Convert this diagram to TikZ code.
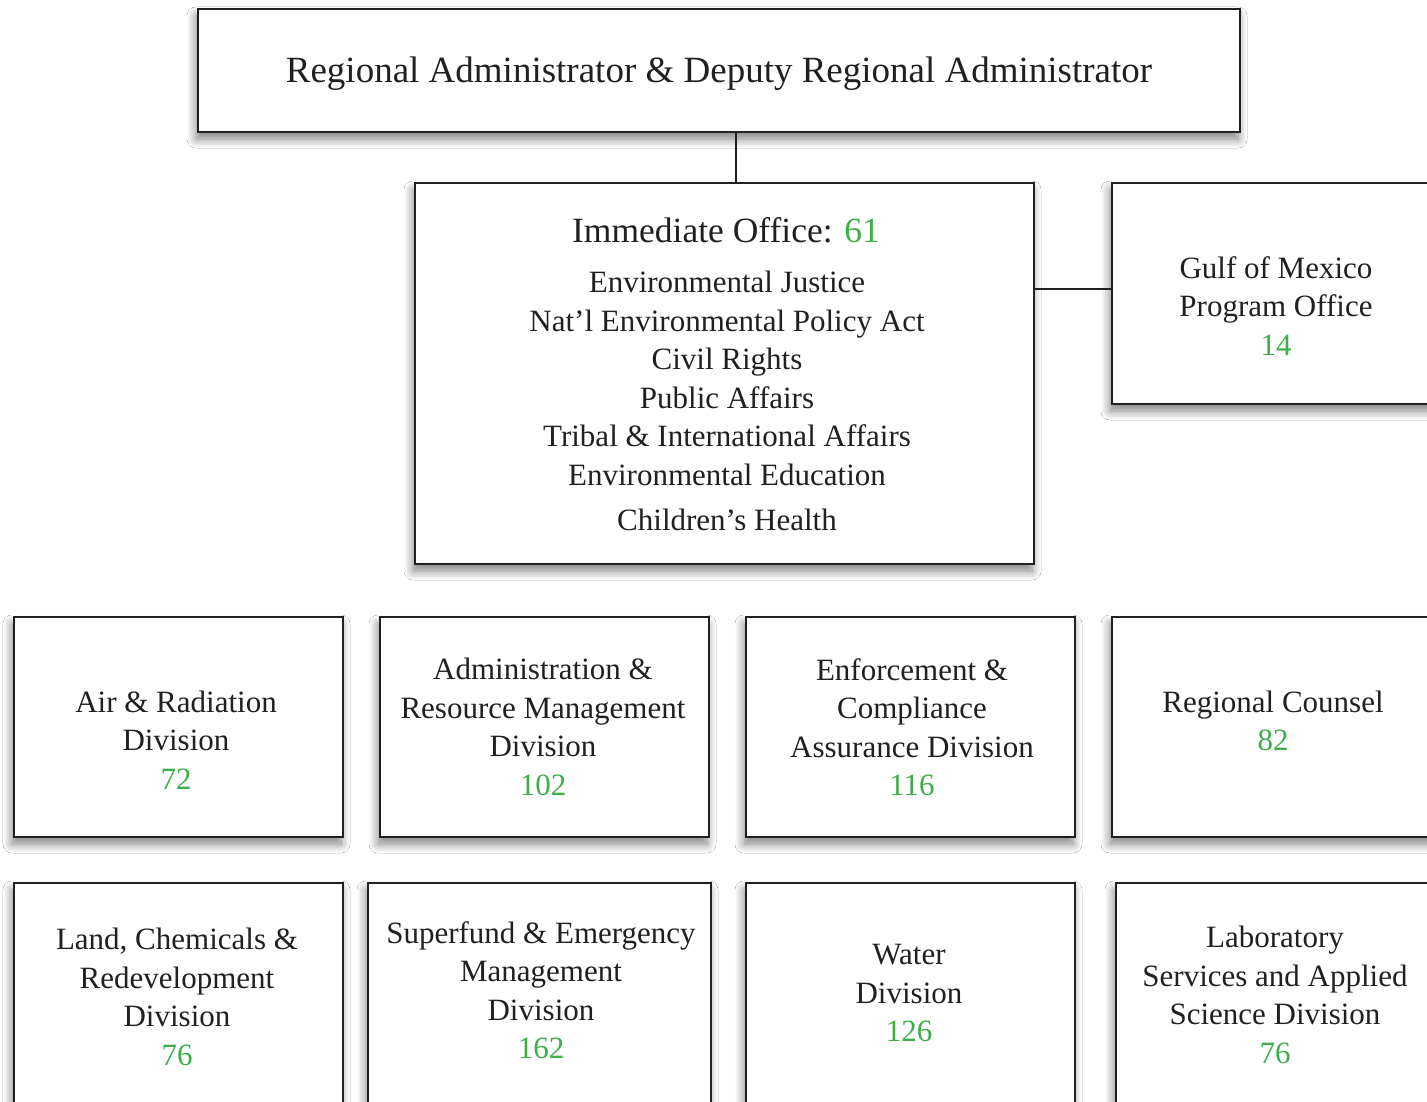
\documentclass[tikz,border=0pt]{standalone}
\usepackage{fontspec}
\setmainfont{Liberation Serif}
\usetikzlibrary{shadows.blur}
\definecolor{ink}{HTML}{231F20}
\definecolor{num}{HTML}{3DAE49}
\tikzset{
  orgbox/.style={draw=ink, line width=2.6pt, fill=white, rectangle, inner sep=0pt,
    blur shadow={shadow xshift=-2pt, shadow yshift=-7pt, shadow blur radius=9pt, shadow blur steps=12, shadow opacity=50}},
  lbl/.style={text=ink, align=center, inner sep=0pt, font=\fontsize{31}{38.5}\selectfont},
  conn/.style={draw=ink, line width=2.2pt}
}
\newcommand{\nm}[1]{\textcolor{num}{#1}}
\newcommand{\bx}[5]{\node[orgbox, minimum width=#4-#2, minimum height=#5-#3] (#1) at ({(#2+#4)/2},{(#3+#5)/2}) {};}
\begin{document}
\begin{tikzpicture}[x=1pt,y=-1pt]
\useasboundingbox (0,0) rectangle (1427,1102);
\clip (0,0) rectangle (1427,1102);
\fill[white] (0,0) rectangle (1427,1102);
% boxes
\bx{top}{198}{9}{1240}{132}
\bx{imm}{415}{183}{1034}{564}
\bx{gulf}{1112}{183}{1460}{404}
\bx{air}{14}{617}{343}{837}
\bx{arm}{380}{617}{709}{837}
\bx{ecad}{746}{617}{1075}{837}
\bx{rc}{1112}{617}{1460}{837}
\bx{lcr}{14}{883}{343}{1140}
\bx{sem}{368}{883}{711}{1140}
\bx{wat}{746}{883}{1075}{1140}
\bx{lsas}{1116}{883}{1460}{1140}
% connectors
\draw[conn] (top.south -| 736,0) -- (imm.north -| 736,0);
\draw[conn] (imm.east |- 0,289) -- (gulf.west |- 0,289);
% texts
\node[lbl, font=\fontsize{37}{40}\selectfont] (topT) at (719,74) {Regional Administrator \& Deputy Regional Administrator};
\node[lbl, font=\fontsize{35.5}{40}\selectfont] (immH) at (726,230) {Immediate Office: \nm{61}};
\node[lbl] (immT) at (727,401) {Environmental Justice\\Nat'l Environmental Policy Act\\Civil Rights\\Public Affairs\\Tribal \& International Affairs\\Environmental Education\\[7pt]Children's Health};
\node[lbl] (gulfT) at (1276,306) {Gulf of Mexico\\Program Office\\\nm{14}};
\node[lbl] (airT) at (176,740) {Air \& Radiation\\Division\\\nm{72}};
\node[lbl] (armT) at (543,727) {Administration \&\\Resource Management\\Division\\\nm{102}};
\node[lbl] (ecadT) at (912,727) {Enforcement \&\\Compliance\\Assurance Division\\\nm{116}};
\node[lbl] (rcT) at (1273,721) {Regional Counsel\\\nm{82}};
\node[lbl] (lcrT) at (177,997) {Land, Chemicals \&\\Redevelopment\\Division\\\nm{76}};
\node[lbl] (semT) at (541,990) {Superfund \& Emergency\\Management\\Division\\\nm{162}};
\node[lbl] (watT) at (909,993) {Water\\Division\\\nm{126}};
\node[lbl] (lsasT) at (1275,995) {Laboratory\\Services and Applied\\Science Division\\\nm{76}};
\end{tikzpicture}
\end{document}
